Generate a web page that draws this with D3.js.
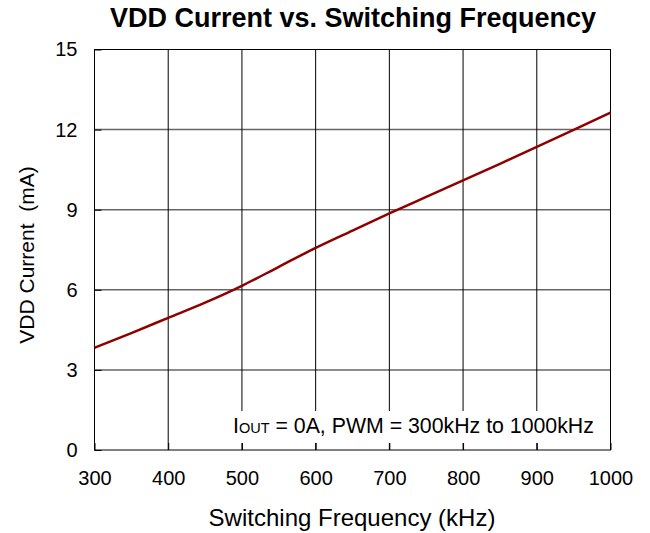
<!DOCTYPE html>
<html><head><meta charset="utf-8">
<script src="https://cdn.jsdelivr.net/npm/d3@7"></script>
<style>body{margin:0;background:#fff}svg{display:block}text{font-family:"Liberation Sans",Arial,sans-serif}</style>
</head><body>
<svg id="c" width="650" height="533"></svg>
<script>
const freqs = [300,350,400,450,500,550,600,650,700,750,800,850,900,950,1000];
const current = [3.83,4.38,4.95,5.52,6.15,6.86,7.57,8.22,8.86,9.48,10.1,10.72,11.35,11.99,12.64];
const xTicks = [300,400,500,600,700,800,900,1000];
const yTicks = [0,3,6,9,12,15];

const svg = d3.select("#c");
const m = {l:94.5, r:610.5, t:49.5, b:450};
const x = d3.scaleLinear().domain([300,1000]).range([m.l,m.r]);
const y = d3.scaleLinear().domain([0,15]).range([m.b,m.t]);

// horizontal grid
svg.append("g").selectAll("line").data(yTicks.slice(1,-1)).join("line")
  .attr("x1",m.l).attr("x2",m.r).attr("y1",d=>y(d)).attr("y2",d=>y(d))
  .attr("stroke","#666").attr("stroke-width",1.5);
// vertical grid
svg.append("g").selectAll("line").data(xTicks.slice(1,-1)).join("line")
  .attr("y1",m.t).attr("y2",m.b).attr("x1",d=>x(d)).attr("x2",d=>x(d))
  .attr("stroke","#000").attr("stroke-width",1);

// annotation box
svg.append("rect").attr("x",228).attr("y",411).attr("width",376).attr("height",32).attr("fill","#fff");

// axes
const xa = svg.append("g").attr("transform",`translate(0,${m.b})`)
  .call(d3.axisBottom(x).tickValues(xTicks).tickSize(-7).tickPadding(21).tickFormat(d3.format("d")));
const ya = svg.append("g").attr("transform",`translate(${m.l},0)`)
  .call(d3.axisLeft(y).tickValues(yTicks).tickSize(-7).tickPadding(17).tickFormat(d3.format("d")));
[xa,ya].forEach(a=>{
  a.select(".domain").remove();
  a.selectAll("line").attr("stroke","#000");
  a.selectAll("text").attr("font-size",20).attr("fill","#000").attr("font-family","Liberation Sans, Arial, sans-serif");
});
// frame
svg.append("rect").attr("x",m.l).attr("y",m.t).attr("width",m.r-m.l).attr("height",m.b-m.t)
  .attr("fill","none").attr("stroke","#000").attr("stroke-width",1);

// line
svg.append("path").datum(freqs.map((f,i)=>[f,current[i]]))
  .attr("d",d3.line().x(d=>x(d[0])).y(d=>y(d[1])).curve(d3.curveMonotoneX))
  .attr("fill","none").attr("stroke","#8f0000").attr("stroke-width",2.5);

// annotation text
const t = svg.append("text").attr("x",233).attr("y",433).attr("font-size",21.3).attr("fill","#000");
t.append("tspan").text("I");
t.append("tspan").attr("font-size",14.5).text("OUT");
t.append("tspan").text(" = 0A, PWM = 300kHz to 1000kHz");

// title
svg.append("text").attr("x",353).attr("y",27).attr("text-anchor","middle")
  .attr("font-size",27).attr("font-weight","bold").attr("fill","#000")
  .text("VDD Current vs. Switching Frequency");
// x label
svg.append("text").attr("x",352).attr("y",526).attr("text-anchor","middle")
  .attr("font-size",24).attr("fill","#000").text("Switching Frequency (kHz)");
// y label
svg.append("text").attr("transform","translate(34,255) rotate(-90)").attr("text-anchor","middle")
  .attr("font-size",21).attr("fill","#000").style("white-space","pre").text("VDD Current  (mA)");
</script>
</body></html>
